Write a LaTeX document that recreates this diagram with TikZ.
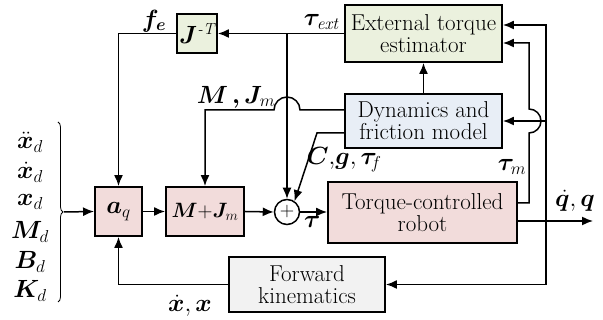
\documentclass[tikz,border=0pt]{standalone}
\usepackage{amsmath}
\usepackage{bm}
\usetikzlibrary{arrows.meta,decorations.pathreplacing}

\definecolor{estgreen}{HTML}{EBF1DE}
\definecolor{dynblue}{HTML}{E8EEF6}
\definecolor{robpink}{HTML}{F2DCDB}
\definecolor{fkgray}{HTML}{F2F2F2}

\begin{document}
\begin{tikzpicture}[x=1pt,y=1pt,line width=1.5pt,
  font=\fontsize{23}{22}\selectfont,
  >={Latex[length=11pt,width=9pt]},
  block/.style={draw,line width=1.9pt,align=center,inner sep=1pt},
  lbl/.style={inner sep=0pt}]
  \useasboundingbox (0,0) rectangle (603,320);

  \node[block,fill=estgreen,minimum width=157,minimum height=57] (est) at (423.5,286.5)
    {External torque\\estimator};
  \node[block,fill=dynblue,minimum width=157,minimum height=54] (dyn) at (423.5,199)
    {Dynamics and\\friction model};
  \node[block,fill=robpink,minimum width=189,minimum height=61] (rob) at (422.5,107.5)
    {Torque-controlled\\robot};
  \node[block,fill=fkgray,minimum width=156,minimum height=55] (fk) at (307,35.5)
    {Forward\\kinematics};
  \node[block,fill=robpink,minimum width=47,minimum height=49] (aq) at (118.5,108.5)
    {$\bm{a}_q$};
  \node[block,fill=robpink,minimum width=78,minimum height=49,inner sep=0pt,
    font=\fontsize{21}{22}\selectfont] (mj) at (205,108.5)
    {$\bm{M}{+}\bm{J}_m$};
  \node[block,fill=estgreen,minimum width=40,minimum height=39] (jt) at (197,286.5)
    {$\bm{J}^{\textit{-T}}$};
  \node[draw,circle,line width=1.5pt,minimum size=25,inner sep=0pt,
    font=\fontsize{20}{20}\selectfont] (sum) at (287,108) {+};

  % desired values
  \node[lbl] (xdd) at (30,178) {$\ddot{\bm{x}}_d$};
  \node[lbl] (xd1) at (30,148) {$\dot{\bm{x}}_d$};
  \node[lbl] (xd0) at (30,118) {$\bm{x}_d$};
  \node[lbl] (md) at (30,88) {$\bm{M}_d$};
  \node[lbl] (bd) at (30,58) {$\bm{B}_d$};
  \node[lbl] (kd) at (30,29) {$\bm{K}_d$};
  \draw[line width=0.8pt,decorate,decoration={brace,amplitude=5pt}]
    (58,198) -- (58,18);

  \coordinate (br) at (sum.north |- est.west);
  \coordinate (qb) at (546,99);

  % forward path
  \draw[->] (64,108) -- (aq.west);
  \draw[->] (aq.east) -- (mj.west);
  \draw[->] (mj.east) -- (sum.west);
  \draw[->] (sum.east) -- (rob.west |- sum.east)
    node[lbl,pos=0.45,below=4pt] {$\bm{\tau}$};
  \draw[->] ([yshift=-8.5pt]rob.east) -- (593,99);
  \node[lbl] (qlab) at (575,119) {$\dot{\bm{q}},\bm{q}$};

  % external force path
  \draw[->] (est.west) -- (jt.east);
  \draw[->] (jt.west) -| (aq.north);
  \draw[->] (br) -- (sum.north);
  \node[lbl] (tlab) at (322,298) {$\bm{\tau}_{\mathit{ext}}$};
  \node[lbl] (flab) at (154,299) {$\bm{f}_{\bm{e}}$};

  % model outputs
  \draw[->] ([yshift=11pt]dyn.west) -- (300,210)
    arc[start angle=0,end angle=180,radius=13] -| (mj.north);
  \node[lbl] (mlab) at (236,223) {$\bm{M}\,\bm{,}\bm{J}_m$};
  \draw[->] ([yshift=-12pt]dyn.west) -- (317,187) -- (sum.55);
  \node[lbl] (clab) at (344,160) {$\bm{C},\!\bm{g},\bm{\tau}_{\!f}$};
  \draw[->] (dyn) -- (est);

  % measured joint torque
  \draw[->] ([yshift=9.5pt]rob.east) -- (529,117) -- (529,187)
    arc[start angle=-90,end angle=90,radius=12] -- (529,277)
    -- ([yshift=-9.5pt]est.east);
  \node[lbl] (mtlab) at (512,153) {$\bm{\tau}_m$};

  % joint state feedback
  \draw[->] (qb) |- ([yshift=8.5pt]est.east);
  \draw[->] (qb |- dyn.east) -- (dyn.east);
  \draw[->] (qb) |- (fk.east);
  \draw[->] (fk.west) -| (aq.south);
  \node[lbl] (xlab) at (190,14) {$\dot{\bm{x}},\bm{x}$};
\end{tikzpicture}
\end{document}
